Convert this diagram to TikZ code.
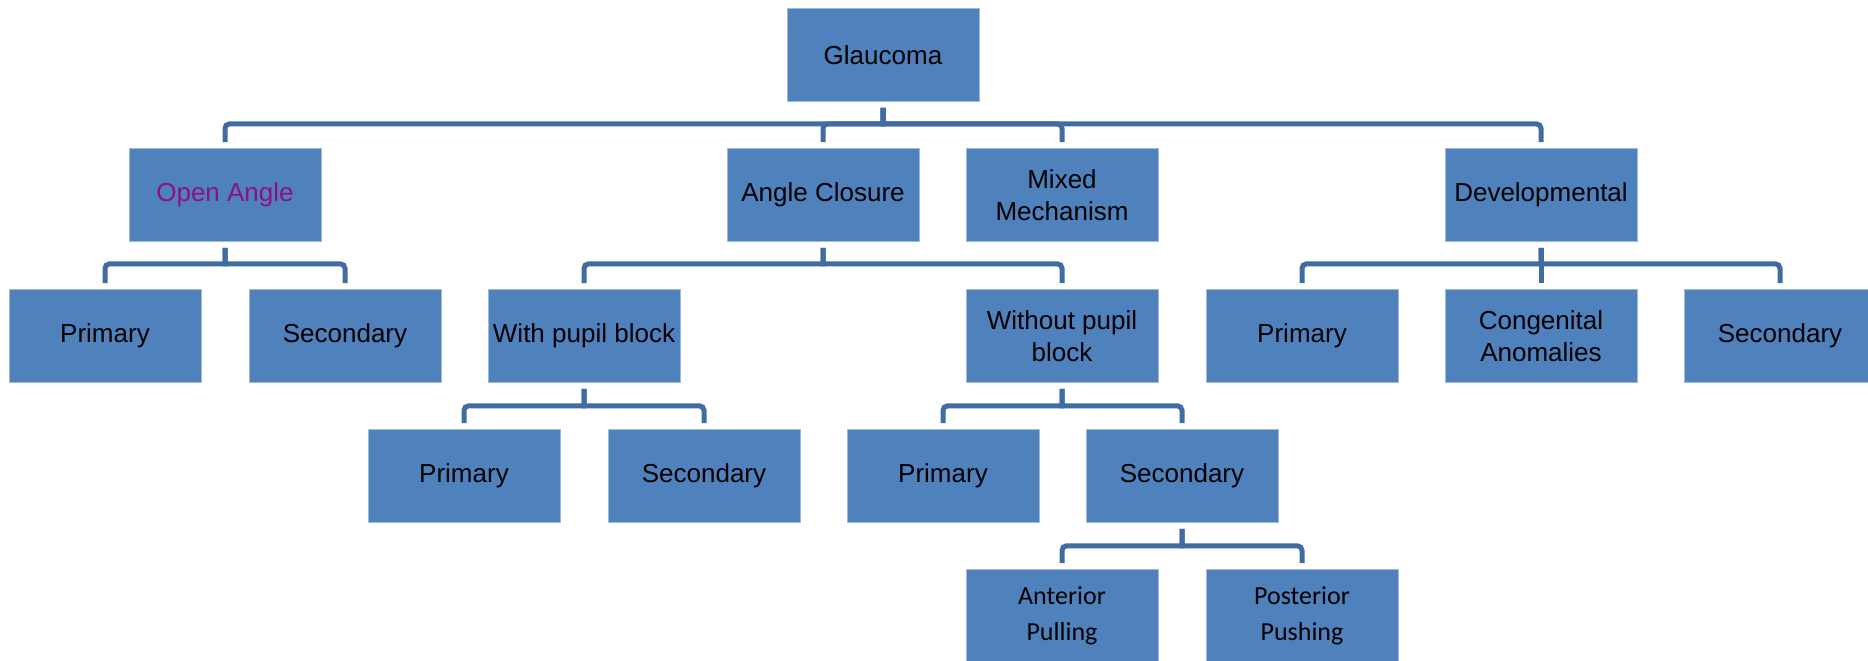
\documentclass[tikz,border=0pt]{standalone}
\usepackage{fontspec}
\usetikzlibrary{calc}
\setmainfont{Liberation Sans}
\newfontfamily\calibri{Carlito}
\definecolor{boxblue}{HTML}{4F81BD}
\definecolor{linkblue}{HTML}{416CA3}
\definecolor{openpurple}{HTML}{8C0F8C}
\newcommand{\branch}[3]{% Elternknoten, Kind, Abstand zur Sammelleitung
  \draw[link] (#1.south) -- ($(#1.south)+(0, #3)$)
    [rounded corners=0.9mm] -| (#2.north);}
\begin{document}
\begin{tikzpicture}[x=0.2mm, y=-0.2mm]
  \useasboundingbox (0, 0) rectangle (1868, 660);
  \clip (0, 0) rectangle (1868, 660);  % rechte Box ist angeschnitten
  \tikzstyle{box}=[rectangle, fill=boxblue, draw=boxblue!55!white, line width=0.4pt,
    minimum width=38.4mm, minimum height=18.6mm, inner sep=0pt, align=center,
    font=\fontsize{14.8}{18}\selectfont]
  \tikzstyle{calbox}=[box, font=\calibri\fontsize{14.8}{20.5}\selectfont]
  \tikzstyle{link}=[draw=linkblue, line width=1mm, shorten <=1.2mm, shorten >=1.2mm]

  \node[box] (glau) at (883, 55) {Glaucoma};

  \node[box, text=openpurple] (open)  at (225, 195)  {Open Angle};
  \node[box] (closure) at (823, 195)  {Angle Closure};
  \node[box] (mixed)   at (1062, 195) {Mixed\\Mechanism};
  \node[box] (devel)   at (1541, 195) {Developmental};

  \node[box] (openprim)  at (105, 336)  {Primary};
  \node[box] (opensec)   at (345, 336)  {Secondary};
  \node[box] (withpb)    at (584, 336)  {With pupil block};
  \node[box] (withoutpb) at (1062, 336) {Without pupil\\block};
  \node[box] (devprim)   at (1302, 336) {Primary};
  \node[box] (congen)    at (1541, 336) {Congenital\\Anomalies};
  \node[box] (devsec)    at (1780, 336) {Secondary};

  \node[box] (wprim)  at (464, 476)  {Primary};
  \node[box] (wsec)   at (704, 476)  {Secondary};
  \node[box] (woprim) at (943, 476)  {Primary};
  \node[box] (wosec)  at (1182, 476) {Secondary};

  \node[calbox] (anterior)  at (1062, 616) {Anterior\\Pulling};
  \node[calbox] (posterior) at (1302, 616) {Posterior\\Pushing};

  \branch{glau}{open}{22}
  \branch{glau}{closure}{22}
  \branch{glau}{mixed}{22}
  \branch{glau}{devel}{22}

  \branch{open}{openprim}{22}
  \branch{open}{opensec}{22}

  \branch{closure}{withpb}{22}
  \branch{closure}{withoutpb}{22}

  \branch{devel}{devprim}{22}
  \branch{devel}{congen}{22}
  \branch{devel}{devsec}{22}

  \branch{withpb}{wprim}{23}
  \branch{withpb}{wsec}{23}

  \branch{withoutpb}{woprim}{23}
  \branch{withoutpb}{wosec}{23}

  \branch{wosec}{anterior}{23}
  \branch{wosec}{posterior}{23}
\end{tikzpicture}
\end{document}
